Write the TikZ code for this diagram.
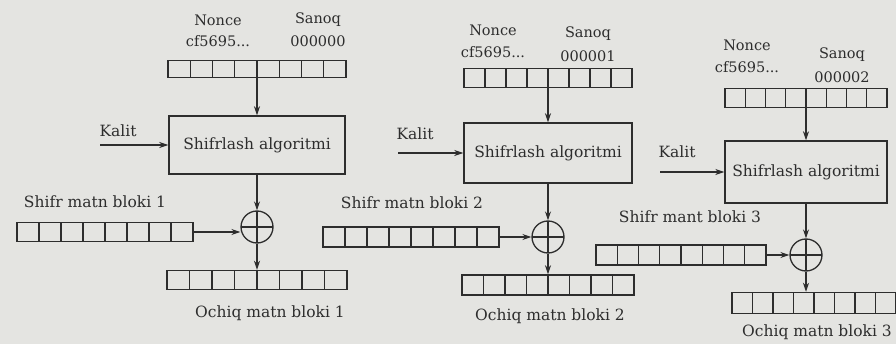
\documentclass[tikz,border=0pt]{standalone}
\usepackage{fontspec}
\setmainfont{DejaVu Serif}
\usetikzlibrary{arrows.meta,calc}
\definecolor{paper}{RGB}{228,228,225}
\definecolor{ink}{RGB}{45,45,45}
\tikzset{
  reg/.style={draw=ink,line width=1.4pt,inner sep=0pt,
    path picture={\foreach \i in {1,...,7}{\draw[ink,line width=1.4pt]
      ($(path picture bounding box.south west)!\i/8!(path picture bounding box.south east)$) --
      ($(path picture bounding box.north west)!\i/8!(path picture bounding box.north east)$);}}},
  algbox/.style={draw=ink,line width=1.4pt,inner sep=0pt,text=ink,font=\fontsize{15.5}{17}\selectfont},
  xorc/.style={circle,draw=ink,line width=1.3pt,minimum size=32pt,inner sep=0pt,
    path picture={\draw[ink,line width=1.3pt]
      (path picture bounding box.north) -- (path picture bounding box.south)
      (path picture bounding box.west) -- (path picture bounding box.east);}},
  arr/.style={draw=ink,line width=1.3pt,-{Stealth[length=9pt,width=6pt]}},
  lbl/.style={text=ink,inner sep=0pt,font=\fontsize{15.5}{17}\selectfont},
  slbl/.style={text=ink,inner sep=0pt,font=\fontsize{14.5}{16}\selectfont},
}
\begin{document}
\begin{tikzpicture}[x=1pt,y=-1pt]
\fill[paper] (0,0) rectangle (896,344);
\useasboundingbox (0,0) rectangle (896,344);

% ---------- panel 1 ----------
\node[slbl] (no1) at (218,20) {Nonce};
\node[slbl] (cf1) at (218,41) {cf5695...};
\node[slbl] (sa1) at (318,20) {Sanoq};
\node[slbl] (sv1) at (318,41) {000000};
\node[reg,minimum width=178pt,minimum height=17pt] (n1) at (257,69) {};
\node[algbox,minimum width=176pt,minimum height=58pt] (e1) at (257,145) {Shifrlash algoritmi};
\coordinate (k1) at (100,145);
\node[lbl] (kl1) at (118,131) {Kalit};
\node[xorc] (x1) at (257,227) {};
\node[lbl] (sl1) at (95,202) {Shifr matn bloki 1};
\node[reg,minimum width=176pt,minimum height=19pt] (c1) at (105,232) {};
\node[reg,minimum width=180pt,minimum height=19pt] (p1) at (257,280) {};
\node[lbl] (ol1) at (270,313) {Ochiq matn bloki 1};
\draw[arr] (n1) -- (e1);
\draw[arr] (k1) -- (e1);
\draw[arr] (e1) -- (x1);
\draw[arr] (c1.east) -- (x1.west |- c1.east);
\draw[arr] (x1) -- (p1);

% ---------- panel 2 ----------
\node[slbl] (no2) at (493,30) {Nonce};
\node[slbl] (cf2) at (493,52) {cf5695...};
\node[slbl] (sa2) at (588,34) {Sanoq};
\node[slbl] (sv2) at (588,56) {000001};
\node[reg,minimum width=168pt,minimum height=19pt] (n2) at (548,78) {};
\node[algbox,minimum width=168pt,minimum height=60pt] (e2) at (548,153) {Shifrlash algoritmi};
\coordinate (k2) at (398,153);
\node[lbl] (kl2) at (415,134) {Kalit};
\node[xorc] (x2) at (548,237) {};
\node[lbl] (sl2) at (412,203) {Shifr matn bloki 2};
\node[reg,minimum width=176pt,minimum height=20pt] (c2) at (411,237) {};
\node[reg,minimum width=172pt,minimum height=20pt] (p2) at (548,285) {};
\node[lbl] (ol2) at (550,316) {Ochiq matn bloki 2};
\draw[arr] (n2) -- (e2);
\draw[arr] (k2) -- (e2);
\draw[arr] (e2) -- (x2);
\draw[arr] (c2) -- (x2);
\draw[arr] (x2) -- (p2);

% ---------- panel 3 ----------
\node[slbl] (no3) at (747,45) {Nonce};
\node[slbl] (cf3) at (747,67) {cf5695...};
\node[slbl] (sa3) at (842,55) {Sanoq};
\node[slbl] (sv3) at (842,77) {000002};
\node[reg,minimum width=162pt,minimum height=19pt] (n3) at (806,98) {};
\node[algbox,minimum width=162pt,minimum height=62pt] (e3) at (806,172) {Shifrlash algoritmi};
\coordinate (k3) at (660,172);
\node[lbl] (kl3) at (677,152) {Kalit};
\node[xorc] (x3) at (806,255) {};
\node[lbl] (sl3) at (690,217) {Shifr mant bloki 3};
\node[reg,minimum width=170pt,minimum height=20pt] (c3) at (681,255) {};
\node[reg,minimum width=164pt,minimum height=21pt] (p3) at (814,303) {};
\node[lbl] (ol3) at (817,332) {Ochiq matn bloki 3};
\draw[arr] (n3) -- (e3);
\draw[arr] (k3) -- (e3);
\draw[arr] (e3) -- (x3);
\draw[arr] (c3) -- (x3);
\draw[arr] (x3) -- (x3 |- p3.north);
\end{tikzpicture}
\end{document}
